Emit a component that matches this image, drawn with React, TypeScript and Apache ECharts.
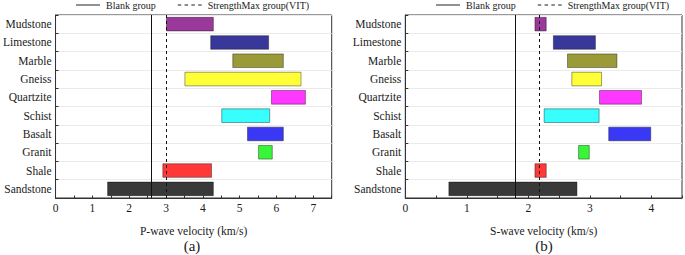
import React, { useEffect, useRef } from "react";
import * as echarts from "echarts";

const categories = ["Sandstone", "Shale", "Granit", "Basalt", "Schist", "Quartzite", "Gneiss", "Marble", "Limestone", "Mudstone"];
const pStart = [1.4, 2.9, 5.5, 5.2, 4.5, 5.85, 3.5, 4.8, 4.2, 3.0];
const pEnd = [4.3, 4.25, 5.9, 6.2, 5.83, 6.8, 6.68, 6.2, 5.8, 4.3];
const sStart = [0.7, 2.1, 2.81, 3.3, 2.25, 3.15, 2.7, 2.63, 2.4, 2.1];
const sEnd = [2.8, 2.3, 3.0, 4.0, 3.16, 3.85, 3.2, 3.45, 3.1, 2.3];
const colors = ["#393939", "#ff3838", "#38f538", "#3838f5", "#38ffff", "#ff38ff", "#ffff38", "#9b9a38", "#38389b", "#9b389b"];
const pBlank = 2.6;
const pVIT = 3.0;
const sBlank = 1.78;
const sVIT = 2.18;
const legendNames = ["Blank group", "StrengthMax group(VIT)"];
const xNames = ["P-wave velocity (km/s)", "S-wave velocity (km/s)"];
const panelLabels = ["(a)", "(b)"];
const xMax = [7.5, 4.5];

const FONT = "Liberation Serif, Times New Roman, serif";

export default function App() {
  const ref = useRef<HTMLDivElement>(null);
  useEffect(() => {
    document.body.style.margin = "0";
    if (!ref.current) return;
    const chart = echarts.init(ref.current, undefined, { renderer: "svg" });
    const grids = [
      { left: 53, top: 15, width: 278.7, height: 183 },
      { left: 405.3, top: 15, width: 278, height: 183 },
    ];
    const starts = [pStart, sStart];
    const ends = [pEnd, sEnd];
    const blanks = [pBlank, sBlank];
    const vits = [pVIT, sVIT];

    const xAxes = [0, 1].map((i) => ({
      type: "value",
      gridIndex: i,
      min: 0,
      max: xMax[i],
      interval: 0.5,
      name: xNames[i],
      nameLocation: "middle",
      nameGap: 27,
      nameTextStyle: { fontFamily: FONT, fontSize: 11.5, color: "#1a1a1a" },
      axisLine: { show: true, lineStyle: { color: "#333", width: 1 } },
      axisTick: { show: true, inside: true, length: 2.5, lineStyle: { color: "#333" } },
      axisLabel: {
        fontFamily: FONT,
        fontSize: 11.5,
        color: "#1a1a1a",
        margin: 4,
        formatter: (v: number) => (Math.abs(v - Math.round(v)) < 1e-6 ? String(Math.round(v)) : ""),
      },
      splitLine: { show: false },
    }));

    const yAxes = [0, 1].map((i) => ({
      type: "category",
      gridIndex: i,
      data: categories,
      axisLine: { show: true, lineStyle: { color: "#333", width: 1 } },
      axisTick: { show: true, inside: true, length: 3, lineStyle: { color: "#333" } },
      axisLabel: { fontFamily: FONT, fontSize: 11.5, color: "#1a1a1a", margin: 4 },
      splitLine: { show: true, lineStyle: { color: "#ebebeb", width: 1 } },
    }));

    const series: any[] = [];
    [0, 1].forEach((i) => {
      series.push({
        type: "bar",
        name: "base" + i,
        xAxisIndex: i,
        yAxisIndex: i,
        stack: "s" + i,
        barWidth: "80%",
        itemStyle: { color: "transparent" },
        data: starts[i],
        silent: true,
      });
      series.push({
        type: "bar",
        name: "range" + i,
        xAxisIndex: i,
        yAxisIndex: i,
        stack: "s" + i,
        barWidth: "80%",
        data: ends[i].map((e, k) => ({
          value: +(e - starts[i][k]).toFixed(3),
          itemStyle: { color: colors[k], borderColor: "rgba(0,0,0,0.38)", borderWidth: 1 },
        })),
      });
      series.push({
        type: "line",
        name: legendNames[0],
        xAxisIndex: i,
        yAxisIndex: i,
        symbol: "none",
        data: [],
        lineStyle: { color: "#111", width: 1, type: "solid" },
        itemStyle: { color: "#111" },
        markLine: {
          silent: true,
          symbol: "none",
          label: { show: false },
          lineStyle: { color: "#111", width: 1, type: "solid" },
          data: [{ xAxis: blanks[i] }],
        },
      });
      series.push({
        type: "line",
        name: legendNames[1],
        xAxisIndex: i,
        yAxisIndex: i,
        symbol: "none",
        data: [],
        lineStyle: { color: "#111", width: 1, type: [3, 3] },
        itemStyle: { color: "#111" },
        markLine: {
          silent: true,
          symbol: "none",
          label: { show: false },
          lineStyle: { color: "#111", width: 1, type: [3, 3] },
          data: [{ xAxis: vits[i] }],
        },
      });
    });

    const solidIcon = "path://M0,0H24V1H0Z";
    const dashIcon = "path://M0,0H3.6V1H0Z M6.8,0H10.4V1H6.8Z M13.6,0H17.2V1H13.6Z M20.4,0H24V1H20.4Z";

    const legendCommon = {
      data: [
        { name: legendNames[0], icon: solidIcon },
        { name: legendNames[1], icon: dashIcon },
      ],
      top: 0,
      padding: 0,
      itemWidth: 24,
      itemHeight: 12,
      itemGap: 22,
      selectedMode: false,
      itemStyle: { color: "#222", borderWidth: 0 },
      lineStyle: { width: 0 },
      textStyle: { fontFamily: FONT, fontSize: 10, color: "#1a1a1a", padding: [0, 0, 0, 1] },
    };

    const titleStyle = { fontFamily: FONT, fontSize: 15, fontWeight: "normal", color: "#1a1a1a" };

    chart.setOption({
      animation: false,
      backgroundColor: "#fff",
      textStyle: { fontFamily: FONT },
      grid: grids.map((g) => ({ ...g, show: true, borderColor: "#333", borderWidth: 1, backgroundColor: "#fff" })),
      xAxis: xAxes,
      yAxis: yAxes,
      legend: [
        { ...legendCommon, left: 76 },
        { ...legendCommon, left: 436 },
      ],
      title: [
        { text: panelLabels[0], left: 192, top: 238, padding: 0, textAlign: "center", textStyle: titleStyle },
        { text: panelLabels[1], left: 544, top: 238, padding: 0, textAlign: "center", textStyle: titleStyle },
      ],
      series,
    });
    return () => chart.dispose();
  }, []);
  return <div ref={ref} style={{ width: 685, height: 255 }} />;
}
